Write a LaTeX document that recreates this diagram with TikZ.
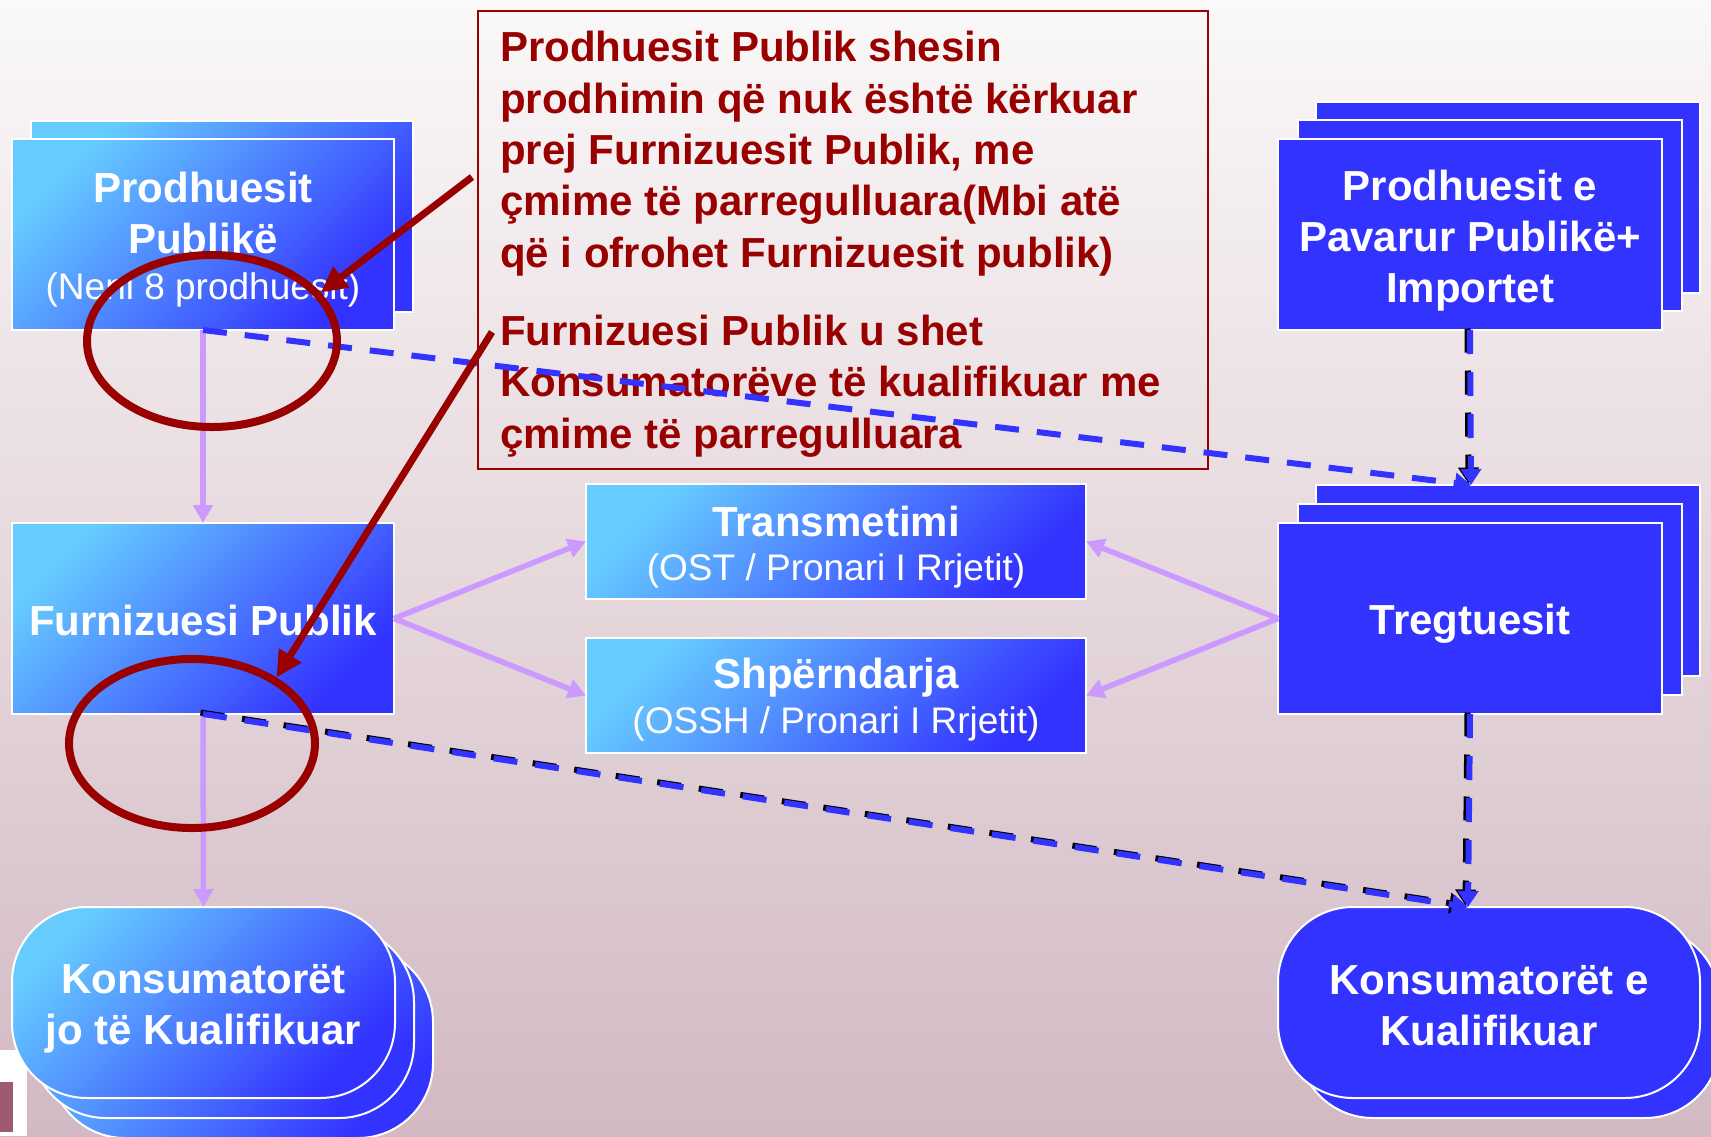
\documentclass[tikz,border=0pt]{standalone}
\usepackage{fontspec}
\setmainfont{Liberation Sans}
\usetikzlibrary{arrows.meta,shapes.geometric}
\definecolor{lite}{HTML}{66CCFF}
\definecolor{deep}{HTML}{3333FF}
\definecolor{lilac}{HTML}{CC99FF}
\definecolor{darkred}{HTML}{990000}
\definecolor{bgtop}{HTML}{FAF8F8}
\definecolor{bgbot}{HTML}{D2B9C3}
\definecolor{mauve}{HTML}{9E5A72}
\begin{document}
\begin{tikzpicture}[x=1pt,y=-1pt,
  lbox/.style={draw=white, line width=2pt, top color=lite, bottom color=deep, shading angle=45,
    minimum width=382pt, minimum height=191pt, inner sep=0pt, outer sep=0pt},
  dbox/.style={draw=white, line width=2pt, fill=deep,
    minimum width=384pt, minimum height=191pt, inner sep=0pt, outer sep=0pt},
  netbox/.style={lbox, minimum width=500pt, minimum height=115pt},
  pill/.style={lbox, rounded corners=75pt, minimum width=383pt},
  dpill/.style={dbox, rounded corners=75pt, minimum width=422pt},
  wtxt/.style={text=white, align=center, inner sep=0pt, font=\fontsize{42}{51}\selectfont\bfseries},
  rtxt/.style={text=darkred, align=left, inner sep=0pt, font=\fontsize{42}{51.3}\selectfont\bfseries},
  ring/.style={ellipse, draw=darkred, line width=8pt, inner sep=0pt},
  redarrow/.style={draw=darkred, line width=7pt, -{Triangle[length=26pt,width=25pt]}},
  lilacarrow/.style={draw=lilac, line width=5.5pt, -{Triangle[length=18pt,width=19pt]}},
  dasharrow/.style={line width=6pt, dash pattern=on 24pt off 18pt, -{Triangle[length=16pt,width=20pt]}},
]
\useasboundingbox (0,0) rectangle (1711,1136);
\clip (0,0) rectangle (1711,1136);
\shade[top color=bgtop, bottom color=bgbot] (0,0) rectangle (1711,1136);
\fill[white] (0,1050) rectangle (27,1136);
\fill[mauve] (0,1082) rectangle (13,1132);

% left column
\node[lbox] (pp-b) at (222,216) {};
\node[lbox] (pp) at (203,234.5) {};
\node[wtxt, anchor=base] (pp-t) at (203,299) {Prodhuesit\\Publikë\\[-5pt]{\fontsize{37}{46}\selectfont\mdseries (Neni 8 prodhuesit)}};

\node[lbox] (fp) at (203,618.5) {};
\node[wtxt, anchor=base] (fp-t) at (203,635) {Furnizuesi Publik};

\node[pill] (kj-b2) at (241.5,1042.5) {};
\node[pill] (kj-b1) at (222.5,1022.5) {};
\node[pill] (kj) at (203.5,1002.5) {};
\node[wtxt, anchor=base] (kj-t) at (203.5,1044) {Konsumatorët\\jo të Kualifikuar};

% middle
\node[netbox] (tm) at (836,541.5) {};
\node[wtxt, anchor=base] (tm-t) at (836,580) {Transmetimi\\[-7pt]{\fontsize{37}{44}\selectfont\mdseries (OST / Pronari I Rrjetit)}};
\node[netbox] (sh) at (836,695.5) {};
\node[wtxt, anchor=base] (sh-t) at (836,733) {Shpërndarja\\[-6pt]{\fontsize{37}{45}\selectfont\mdseries (OSSH / Pronari I Rrjetit)}};

% right column
\node[dbox] (pi-b2) at (1508,197) {};
\node[dbox] (pi-b1) at (1489.5,215.5) {};
\node[dbox] (pi) at (1470,234.5) {};
\node[wtxt, anchor=base] (pi-t) at (1470,302) {Prodhuesit e\\Pavarur Publikë+\\Importet};

\node[dbox] (tg-b2) at (1508,580.5) {};
\node[dbox] (tg-b1) at (1489.5,599.5) {};
\node[dbox] (tg) at (1470,618.5) {};
\node[wtxt, anchor=base] (tg-t) at (1470,634) {Tregtuesit};

\node[dpill] (kk-b) at (1509,1022.5) {};
\node[dpill] (kk) at (1489,1002.5) {};
\node[wtxt, anchor=base] (kk-t) at (1489,1045) {Konsumatorët e\\Kualifikuar};

% lilac connectors
\draw[lilacarrow] (pp.south) -- (fp.north);
\draw[lilacarrow] (fp.south) -- (kj.north);
\draw[lilacarrow] (fp.east) -- (tm.west);
\draw[lilacarrow] (fp.east) -- (sh.west);
\draw[lilacarrow] (tg.west) -- (tm.east);
\draw[lilacarrow] (tg.west) -- (sh.east);

% callout
\node[draw=darkred, line width=2pt, minimum width=730pt, minimum height=458pt, inner sep=0pt] (co) at (843,240) {};
\node[rtxt, anchor=base west] (co-t) at (500,448) {Prodhuesit Publik shesin\\prodhimin që nuk është kërkuar\\prej Furnizuesit Publik, me\\çmime të parregulluara(Mbi atë\\që i ofrohet Furnizuesit publik)\\[27pt]Furnizuesi Publik u shet\\Konsumatorëve të kualifikuar me\\çmime të parregulluara};

% dashed connectors
\coordinate (tin) at (1471,485);
\coordinate (kin) at (1468,907);
\draw[dasharrow, deep] (pp.south) -- (tin);
\begin{scope}[transform canvas={xshift=-2.5pt,yshift=1.5pt}]
\draw[dasharrow, black] (pi.south) -- (tin);
\draw[dasharrow, black] (tg.south) -- (kin);
\draw[dasharrow, black] (fp.south) -- (kin);
\end{scope}
\draw[dasharrow, deep] (pi.south) -- (tin);
\draw[dasharrow, deep] (tg.south) -- (kin);
\draw[dasharrow, deep] (fp.south) -- (kin);

% highlight rings and red arrows
\node[ring, minimum width=250pt, minimum height=172pt] (e1) at (212,341) {};
\node[ring, minimum width=246pt, minimum height=169pt] (e2) at (192,743.5) {};
\coordinate (r1) at (472,177);
\coordinate (r2) at (492,332);
\draw[redarrow] (r1) -- (e1.24);
\draw[redarrow] (r2) -- (e2.38);
\end{tikzpicture}
\end{document}
